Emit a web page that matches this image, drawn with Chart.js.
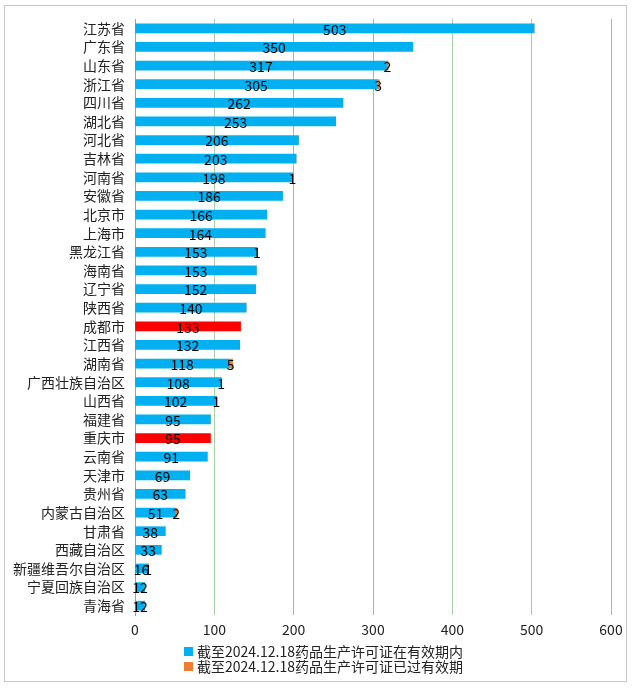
<!DOCTYPE html>
<html>
<head>
<meta charset="utf-8">
<script src="https://cdn.jsdelivr.net/npm/chart.js@4/dist/chart.umd.min.js"></script>
<style>
html,body{margin:0;padding:0;background:#fff;}
canvas{display:block;}
</style>
</head>
<body>
<canvas id="c" width="634" height="690"></canvas>
<script>
const categories = ['江苏省','广东省','山东省','浙江省','四川省','湖北省','河北省','吉林省','河南省','安徽省','北京市','上海市','黑龙江省','海南省','辽宁省','陕西省','成都市','江西省','湖南省','广西壮族自治区','山西省','福建省','重庆市','云南省','天津市','贵州省','内蒙古自治区','甘肃省','西藏自治区','新疆维吾尔自治区','宁夏回族自治区','青海省'];
const validCounts = [503,350,317,305,262,253,206,203,198,186,166,164,153,153,152,140,133,132,118,108,102,95,95,91,69,63,51,38,33,16,12,12];
const expiredCounts = [0,0,2,3,0,0,0,0,1,0,0,0,1,0,0,0,0,0,5,1,1,0,0,0,0,0,2,0,0,1,0,0];
const highlighted = ['成都市','重庆市'];
const seriesNames = ['截至2024.12.18药品生产许可证在有效期内','截至2024.12.18药品生产许可证已过有效期'];
const xTickValues = [0,100,200,300,400,500,600];

const FONT = "'Noto Sans CJK SC', 'Liberation Sans', sans-serif";
const BLUE = '#00B0F0', ORANGE = '#ED7D31', RED = '#FF0000';
const gridColors = ['#a0a0a0','#a6d2a6','#aab2aa','#aab2aa','#a6d2a6','#b0c2b0','#aab2aa'];

const framePlugin = {
  id: 'frame',
  beforeDraw(chart) {
    const ctx = chart.ctx;
    ctx.save();
    ctx.fillStyle = '#fff';
    ctx.fillRect(0, 0, chart.width, chart.height);
    ctx.strokeStyle = '#c8c8c8';
    ctx.lineWidth = 1;
    ctx.strokeRect(4.5, 5.5, 622, 676);
    ctx.restore();
  }
};

const labelPlugin = {
  id: 'barLabels',
  afterDatasetsDraw(chart) {
    const ctx = chart.ctx;
    ctx.save();
    ctx.font = '14px ' + FONT;
    ctx.fillStyle = '#000';
    ctx.textAlign = 'center';
    ctx.textBaseline = 'middle';
    chart.data.datasets.forEach((ds, di) => {
      const meta = chart.getDatasetMeta(di);
      meta.data.forEach((el, i) => {
        const v = ds.data[i];
        if (!v) return;
        const cx = (el.x + el.base) / 2;
        ctx.fillText(String(v), cx, el.y + 1);
      });
    });
    ctx.restore();
  }
};

const legendPlugin = {
  id: 'customLegend',
  afterDraw(chart) {
    const ctx = chart.ctx;
    ctx.save();
    ctx.font = '14px ' + FONT;
    ctx.textAlign = 'left';
    ctx.textBaseline = 'middle';
    const rows = [652, 667];
    chart.data.datasets.forEach((ds, i) => {
      const y = rows[i];
      ctx.fillStyle = i === 0 ? BLUE : ORANGE;
      ctx.fillRect(184, y - 5, 9, 9);
      ctx.fillStyle = '#222';
      ctx.fillText(ds.label, 197, y);
    });
    ctx.restore();
  }
};

new Chart(document.getElementById('c'), {
  type: 'bar',
  data: {
    labels: categories,
    datasets: [
      {
        label: seriesNames[0],
        data: validCounts,
        backgroundColor: categories.map(c => highlighted.includes(c) ? RED : BLUE),
        barThickness: 9
      },
      {
        label: seriesNames[1],
        data: expiredCounts,
        backgroundColor: ORANGE,
        barThickness: 9
      }
    ]
  },
  options: {
    indexAxis: 'y',
    responsive: false,
    animation: false,
    layout: { padding: { top: 19, right: 23, bottom: 45, left: 0 } },
    plugins: {
      legend: { display: false },
      tooltip: { enabled: false }
    },
    scales: {
      x: {
        stacked: true,
        min: 0,
        max: 600,
        afterBuildTicks(scale) { scale.ticks = xTickValues.map(v => ({ value: v })); },
        afterFit(scale) { scale.height = 30; },
        ticks: { font: { size: 14, family: FONT }, color: '#222', padding: 6 },
        grid: {
          drawTicks: false,
          color: ctx => gridColors[ctx.index] || '#aab2aa',
          lineWidth: 1
        },
        border: { display: false }
      },
      y: {
        stacked: true,
        afterFit(scale) { scale.width = 135; },
        ticks: { font: { size: 14, family: FONT }, color: '#222', padding: 10, autoSkip: false },
        grid: { display: false, drawTicks: false },
        border: { display: true, color: '#a0a0a0' }
      }
    }
  },
  plugins: [framePlugin, labelPlugin, legendPlugin]
});
</script>
</body>
</html>
